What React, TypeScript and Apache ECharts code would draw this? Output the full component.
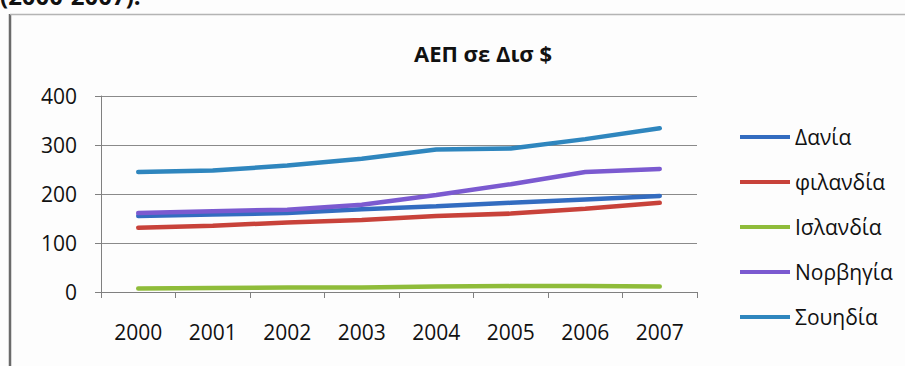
import React, { useEffect, useRef } from "react";
import * as echarts from "echarts";

const years = ["2000", "2001", "2002", "2003", "2004", "2005", "2006", "2007"];
const denmark = [155, 158, 161, 169, 175, 182, 189, 196];
const finland = [131, 135, 142, 147, 155, 160, 170, 182];
const iceland = [7, 8, 9, 9, 11, 12, 12, 11];
const norway = [161, 165, 168, 178, 198, 220, 245, 251];
const sweden = [245, 248, 258, 272, 291, 293, 312, 334];

const seriesNames = ["Δανία", "φιλανδία", "Ισλανδία", "Νορβηγία", "Σουηδία"];
const seriesColors = ["#336cc0", "#c8423a", "#8fbc3a", "#7b5ad0", "#2f86be"];
const seriesData = [denmark, finland, iceland, norway, sweden];

const FONT = "'Open Sans', 'Noto Sans', sans-serif";

export default function App() {
  const ref = useRef<HTMLDivElement>(null);
  useEffect(() => {
    if (!ref.current) return;
    const chart = echarts.init(ref.current, null, { renderer: "svg" });
    chart.setOption({
      animation: false,
      backgroundColor: "#fdfdfd",
      title: {
        text: "ΑΕΠ σε Δισ $",
        left: 478,
        top: 37,
        textAlign: "center",
        textStyle: { fontFamily: FONT, fontSize: 22, fontWeight: "bold", color: "#111" },
      },
      graphic: [
        {
          type: "text",
          left: 0,
          top: -17,
          style: { text: "(2000-2007).", font: "bold 24px 'Open Sans', sans-serif", fill: "#111" },
        },
        {
          type: "line",
          shape: { x1: 10, y1: 14, x2: 10, y2: 366 },
          style: { stroke: "#6a6a6a", lineWidth: 2.5 },
        },
        {
          type: "line",
          shape: { x1: 10, y1: 14.5, x2: 905, y2: 14.5 },
          style: { stroke: "#b4b4b4", lineWidth: 1.5 },
        },
      ],
      legend: {
        orient: "vertical",
        left: 735,
        top: 121,
        itemWidth: 50,
        itemHeight: 4,
        itemGap: 23,
        icon: "rect",
        data: seriesNames,
        textStyle: { fontFamily: FONT, fontSize: 21, color: "#111", lineHeight: 22 },
      },
      grid: { left: 101, right: 208, top: 96, bottom: 74 },
      xAxis: {
        type: "category",
        data: years,
        boundaryGap: true,
        axisLine: { lineStyle: { color: "#808080", width: 1 } },
        axisTick: { show: true, length: 6, lineStyle: { color: "#808080" } },
        axisLabel: { margin: 29, fontFamily: FONT, fontSize: 21, color: "#111" },
      },
      yAxis: {
        type: "value",
        min: 0,
        max: 400,
        interval: 100,
        axisLine: { show: true, lineStyle: { color: "#808080", width: 1 } },
        axisTick: { show: true, length: 6, lineStyle: { color: "#808080" } },
        axisLabel: { margin: 24, fontFamily: FONT, fontSize: 21, color: "#111" },
        splitLine: { lineStyle: { color: "#8a8a8a", width: 1 } },
      },
      series: seriesNames.map((name, i) => ({
        name,
        type: "line",
        data: seriesData[i],
        symbol: "none",
        color: seriesColors[i],
        lineStyle: { width: 4.5, color: seriesColors[i], cap: "round" },
      })),
    });
    return () => chart.dispose();
  }, []);
  return (
    <div
      ref={ref}
      style={{ position: "absolute", left: 0, top: 0, width: 905, height: 366 }}
    />
  );
}
